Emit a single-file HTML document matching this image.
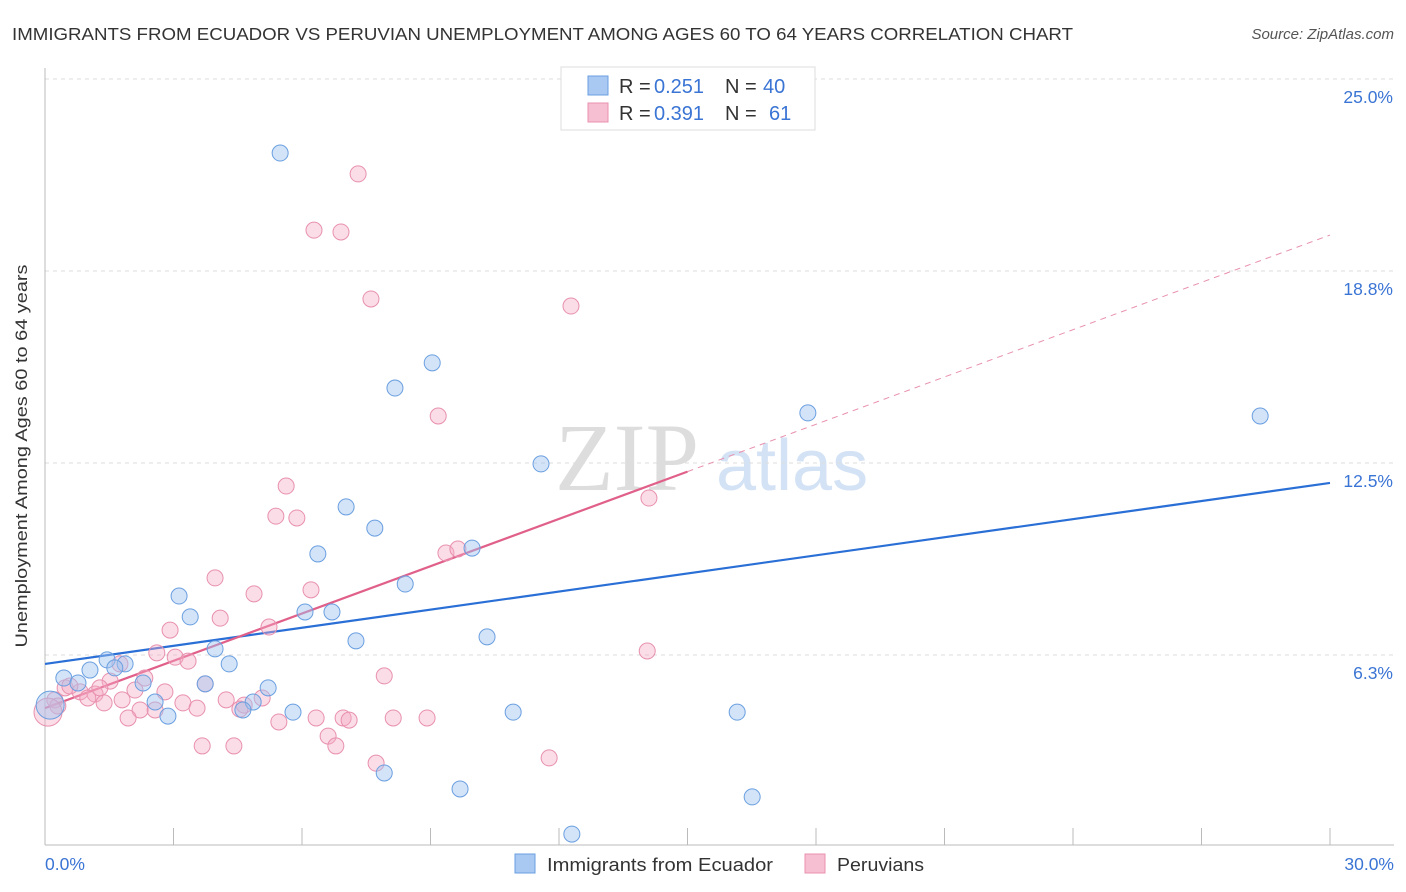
<!DOCTYPE html>
<html><head><meta charset="utf-8">
<style>
body{margin:0;background:#fff;font-family:"Liberation Sans",sans-serif;}
svg{display:block}
</style></head>
<body>
<svg id="chart" width="1406" height="892" xmlns="http://www.w3.org/2000/svg">
<text x="12" y="40" font-size="17.5" fill="#333" textLength="1061" lengthAdjust="spacingAndGlyphs">IMMIGRANTS FROM ECUADOR VS PERUVIAN UNEMPLOYMENT AMONG AGES 60 TO 64 YEARS CORRELATION CHART</text>
<text x="1394" y="39" font-size="15" fill="#555" font-style="italic" text-anchor="end">Source: ZipAtlas.com</text>
<g>
<text x="555" y="490" font-size="96" fill="#ddd" font-family="Liberation Serif,serif">ZIP</text>
<text x="716" y="490" font-size="72" fill="#d3e2f5">atlas</text>
</g>
<g id="grid"></g>
<g id="axes"></g>
<g id="lines"></g>
<g id="points"></g>
<text x="27" y="456" font-size="17" fill="#333" text-anchor="middle" textLength="383" lengthAdjust="spacingAndGlyphs" transform="rotate(-90 27 456)">Unemployment Among Ages 60 to 64 years</text>
<g>
<rect x="561" y="67" width="254" height="63" fill="#fff" stroke="#ddd"/>
<rect x="588" y="76" width="20" height="19" fill="#a9c9f2" stroke="#6a9fe0"/>
<rect x="588" y="103" width="20" height="19" fill="#f7bfd2" stroke="#e890ae"/>
<g font-size="20" fill="#333">
<text x="619" y="93">R =</text><text x="654" y="93" fill="#3a74d4">0.251</text><text x="725" y="93">N =</text><text x="763" y="93" fill="#3a74d4">40</text>
<text x="619" y="120">R =</text><text x="654" y="120" fill="#3a74d4">0.391</text><text x="725" y="120">N =</text><text x="769" y="120" fill="#3a74d4">61</text>
</g>
</g>
<g>
<rect x="515" y="854" width="20" height="19" fill="#a9c9f2" stroke="#6a9fe0"/>
<text x="547" y="871" font-size="18" fill="#333" textLength="226" lengthAdjust="spacingAndGlyphs">Immigrants from Ecuador</text>
<rect x="805" y="854" width="20" height="19" fill="#f7bfd2" stroke="#e890ae"/>
<text x="837" y="871" font-size="18" fill="#333" textLength="87" lengthAdjust="spacingAndGlyphs">Peruvians</text>
</g>
</svg>
<script>
const yTicks=[6.25,12.5,18.75,25];
const yTickLabels=["6.3%","12.5%","18.8%","25.0%"];
const xTickVals=[0,3,6,9,12,15,18,21,24,27,30];
const xEndLabels=["0.0%","30.0%"];
const blueX=[5.49,9.04,8.17,17.81,28.37,11.58,7.03,7.70,6.37,9.97,8.41,3.13,3.39,6.07,6.70,10.32,7.26,3.97,1.45,1.87,1.05,1.63,4.30,0.44,0.77,2.29,3.74,5.21,2.57,4.86,4.62,2.87,5.79,10.93,16.16,7.92,9.69,16.51,12.30,0.12];
const blueY=[22.59,15.76,14.94,14.13,14.03,12.47,11.07,10.38,9.54,9.73,8.56,8.17,7.49,7.65,7.65,6.84,6.71,6.45,6.09,5.96,5.76,5.83,5.96,5.50,5.34,5.34,5.31,5.18,4.72,4.72,4.46,4.26,4.39,4.39,4.39,2.41,1.89,1.63,0.42,4.62];
const pinkX=[7.31,6.28,6.91,7.61,12.28,9.18,5.63,5.39,5.88,14.10,9.36,9.64,3.97,6.21,4.88,4.09,5.23,2.92,2.61,3.04,3.34,14.06,7.92,2.33,1.52,1.75,0.47,0.82,1.17,2.10,2.80,3.74,1.00,1.80,1.38,3.22,4.23,5.07,4.65,4.55,3.55,2.57,2.22,1.94,5.46,6.33,6.96,7.10,8.13,8.92,6.61,6.79,3.67,4.41,7.73,11.77,0.23,0.30,0.07,0.58,1.28];
const pinkY=[21.91,20.08,20.02,17.84,17.61,14.03,11.75,10.77,10.71,11.36,9.57,9.70,8.76,8.37,8.24,7.45,7.16,7.06,6.32,6.18,6.05,6.38,5.57,5.50,5.40,5.96,5.18,5.05,4.98,5.11,5.05,5.31,4.85,4.79,4.69,4.69,4.79,4.85,4.62,4.49,4.52,4.46,4.46,4.20,4.07,4.20,4.20,4.13,4.20,4.20,3.61,3.29,3.29,3.29,2.73,2.90,4.79,4.59,4.39,5.24,5.18];
const bigBlue=[39];
const bigPink=[58];
const blueTrend=[5.96,11.85];
const pinkTrend=[4.52,19.92];
const pinkSolidEnd=15;

const NS="http://www.w3.org/2000/svg";
const xs=v=>45+v*42.833;
const ys=v=>847-v*30.72;
function mk(tag,attrs,parent){const e=document.createElementNS(NS,tag);for(const k in attrs)e.setAttribute(k,attrs[k]);document.getElementById(parent).appendChild(e);return e;}
yTicks.forEach((t,i)=>{
 const l=mk('line',{x1:45,x2:1394,y1:ys(t),y2:ys(t),stroke:'#ddd','stroke-dasharray':'4,4'},'grid');
 
 
 const tx=mk('text',{x:1393,y:ys(t)+24,'font-size':17.5,fill:'#3a74d4','text-anchor':'end'},'grid');
 tx.textContent=yTickLabels[i];
 
 
});
const gl=mk('line',{x1:45,x2:1394,y1:79,y2:79,stroke:'#ddd','stroke-dasharray':'4,4'},'grid');


const ax=mk('line',{x1:45,x2:1394,y1:845,y2:845,stroke:'#bbb'},'axes');


const ay=mk('line',{x1:45,x2:45,y1:68,y2:845,stroke:'#bbb'},'axes');


xTickVals.forEach(t=>{
 const l=mk('line',{x1:xs(t),x2:xs(t),y1:828,y2:845,stroke:'#bbb'},'axes');
 
 
});
const xl0=mk('text',{x:45,y:870,'font-size':17.5,fill:'#3a74d4'},'axes');xl0.textContent=xEndLabels[0];


const xl1=mk('text',{x:1394,y:870,'font-size':17.5,fill:'#3a74d4','text-anchor':'end'},'axes');xl1.textContent=xEndLabels[1];



const bl=mk('line',{x1:xs(0),y1:ys(blueTrend[0]),x2:xs(30),y2:ys(blueTrend[1]),stroke:'#2a6fd6','stroke-width':2.2},'lines');


const pAt=x=>pinkTrend[0]+(pinkTrend[1]-pinkTrend[0])*x/30;
const pl=mk('line',{x1:xs(0),y1:ys(pinkTrend[0]),x2:xs(pinkSolidEnd),y2:ys(pAt(pinkSolidEnd)),stroke:'#e0608a','stroke-width':2.2},'lines');


const pd=mk('line',{x1:xs(pinkSolidEnd),y1:ys(pAt(pinkSolidEnd)),x2:xs(30),y2:ys(pinkTrend[1]),stroke:'#e890ae','stroke-width':1,'stroke-dasharray':'6,5'},'lines');



pinkX.forEach((x,i)=>{
 const c=mk('circle',{cx:xs(x),cy:ys(pinkY[i]),r:bigPink.includes(i)?14:8,fill:'rgba(245,170,196,0.4)',stroke:'#e890ae','stroke-width':1},'points');
 
 
});
blueX.forEach((x,i)=>{
 const c=mk('circle',{cx:xs(x),cy:ys(blueY[i]),r:bigBlue.includes(i)?14:8,fill:'rgba(160,195,240,0.45)',stroke:'#6a9fe0','stroke-width':1},'points');
 
 
});
</script>
</body></html>
